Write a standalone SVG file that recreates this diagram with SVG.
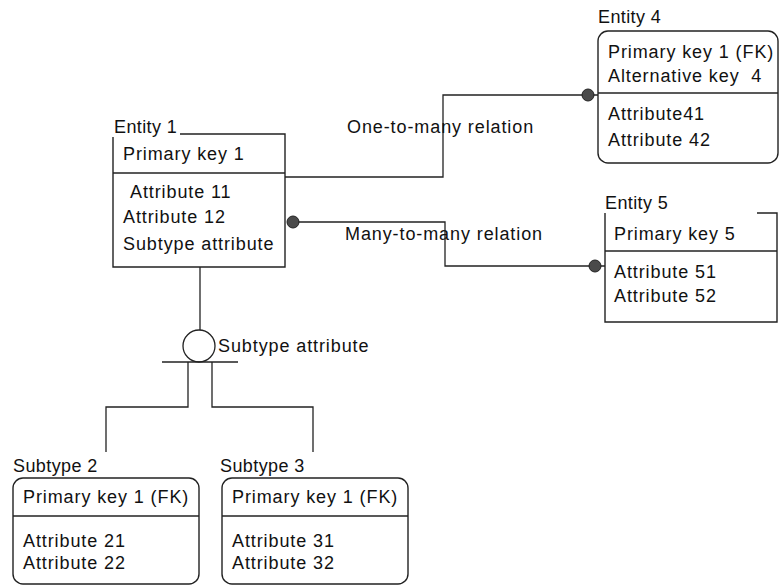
<svg xmlns="http://www.w3.org/2000/svg" width="780" height="586" viewBox="0 0 780 586">
  <style>
    text { font-family: "Liberation Sans", Arial, sans-serif; font-size: 18px; letter-spacing: 0.9px; fill: #111; }
    .label { letter-spacing: 0.4px; }
    .box { fill: none; stroke: #222; stroke-width: 1.4; }
    .line { fill: none; stroke: #222; stroke-width: 1.3; }
    .dot { fill: #4a4a4a; stroke: #222; stroke-width: 1; }
  </style>

  <!-- Connectors -->
  <g id="connectors">
    <!-- one-to-many: Entity 1 to Entity 4 -->
    <path class="line" d="M285,177 H443 V95 H598"/>
    <circle class="dot" cx="588" cy="95" r="6"/>
    <text x="347" y="133">One-to-many relation</text>
    <!-- many-to-many: Entity 1 to Entity 5 -->
    <path class="line" d="M293,222 H445 V266 H605"/>
    <circle class="dot" cx="293" cy="222" r="6"/>
    <circle class="dot" cx="595" cy="266" r="6"/>
    <text x="345" y="240">Many-to-many relation</text>
    <!-- subtype discriminator -->
    <path class="line" d="M200,267 V330"/>
    <circle class="line" cx="199" cy="346" r="16"/>
    <path class="line" d="M162,362 H238"/>
    <path class="line" d="M188,362 V407 H106 V452"/>
    <path class="line" d="M212,362 V407 H313 V452"/>
    <text x="218" y="352">Subtype attribute</text>
  </g>

  <!-- Entity 1 -->
  <g id="entity1">
    <text class="label" x="114" y="133">Entity 1</text>
    <path class="box" d="M180,134 H285 V267 H113 V137"/>
    <path class="box" d="M113,173 H285"/>
    <text x="123" y="160">Primary key 1</text>
    <text x="130" y="198">Attribute 11</text>
    <text x="123" y="223">Attribute 12</text>
    <text x="123" y="250">Subtype attribute</text>
  </g>

  <!-- Entity 4 -->
  <g id="entity4">
    <text class="label" x="598" y="23">Entity 4</text>
    <rect class="box" x="598" y="31" width="180" height="132" rx="10"/>
    <path class="box" d="M598,93 H778"/>
    <text x="608" y="58">Primary key 1 (FK)</text>
    <text x="608" y="82" xml:space="preserve">Alternative key  4</text>
    <text x="608" y="120">Attribute41</text>
    <text x="608" y="146">Attribute 42</text>
  </g>

  <!-- Entity 5 -->
  <g id="entity5">
    <text class="label" x="605" y="209">Entity 5</text>
    <path class="box" d="M757,213 H777 V322 H605 V213"/>
    <path class="box" d="M605,251 H777"/>
    <text x="614" y="240">Primary key 5</text>
    <text x="614" y="278">Attribute 51</text>
    <text x="614" y="302">Attribute 52</text>
  </g>

  <!-- Subtype 2 -->
  <g id="subtype2">
    <text class="label" x="13" y="472">Subtype 2</text>
    <rect class="box" x="13" y="478" width="186" height="106" rx="10"/>
    <path class="box" d="M13,516 H199"/>
    <text x="23" y="503">Primary key 1 (FK)</text>
    <text x="23" y="547">Attribute 21</text>
    <text x="23" y="569">Attribute 22</text>
  </g>

  <!-- Subtype 3 -->
  <g id="subtype3">
    <text class="label" x="220" y="472">Subtype 3</text>
    <rect class="box" x="222" y="478" width="186" height="106" rx="10"/>
    <path class="box" d="M222,516 H408"/>
    <text x="232" y="503">Primary key 1 (FK)</text>
    <text x="232" y="547">Attribute 31</text>
    <text x="232" y="569">Attribute 32</text>
  </g>
</svg>
